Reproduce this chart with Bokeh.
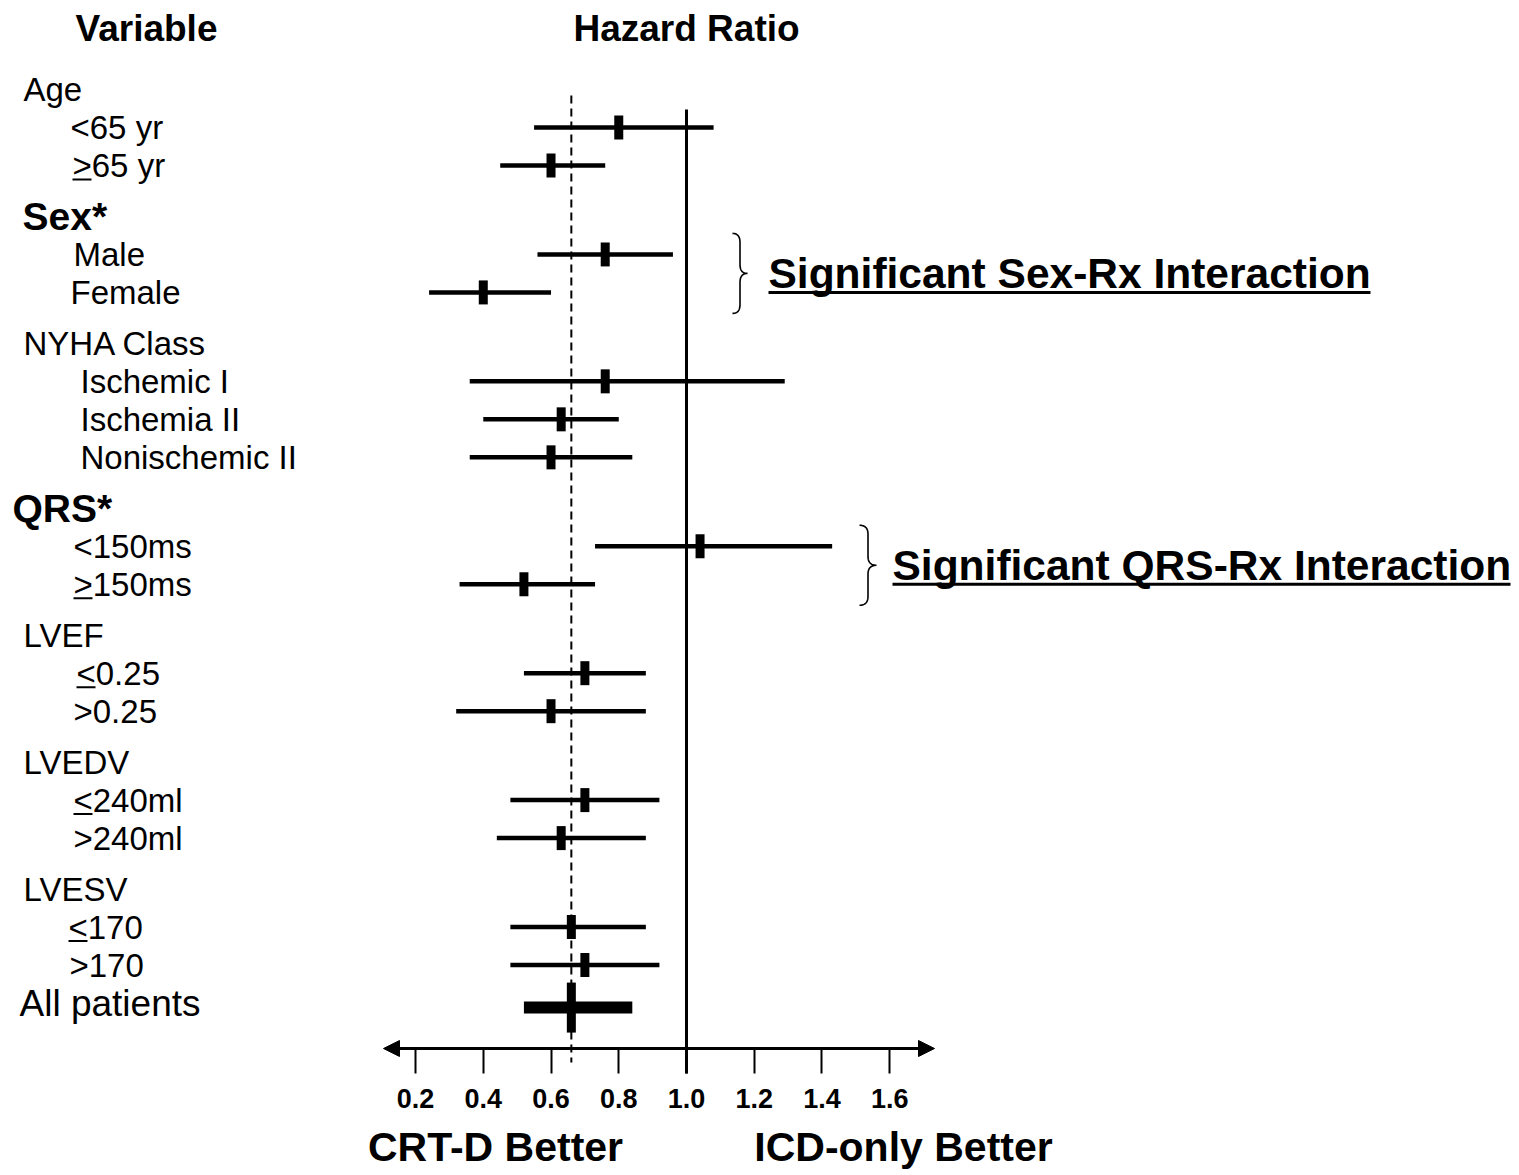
import numpy as np
from bokeh.plotting import figure
from bokeh.models import (Range1d, LinearAxis, FixedTicker, NumeralTickFormatter,
                          Arrow, NormalHead, ColumnDataSource)
from bokeh.core.properties import value
from bokeh.embed import file_html
from bokeh.resources import INLINE

# ---------------- data ----------------
groups = ["Age", "Sex*", "NYHA Class", "QRS*", "LVEF", "LVEDV", "LVESV"]
group_bold = [False, True, False, True, False, False, False]

subgroups = ["<65 yr", ">65 yr", "Male", "Female", "Ischemic I", "Ischemia II",
             "Nonischemic II", "<150ms", ">150ms", "<0.25", ">0.25",
             "<240ml", ">240ml", "<170", ">170"]
subgroup_of = [0, 0, 1, 1, 2, 2, 2, 3, 3, 4, 4, 5, 5, 6, 6]
subgroup_underlined = [False, True, False, False, False, False, False,
                       False, True, True, False, True, False, True, False]
hr = [0.80, 0.60, 0.76, 0.40, 0.76, 0.63, 0.60, 1.04, 0.52, 0.70, 0.60,
      0.70, 0.63, 0.66, 0.70]
ci_low = [0.55, 0.45, 0.56, 0.24, 0.36, 0.40, 0.36, 0.73, 0.33, 0.52, 0.32,
          0.48, 0.44, 0.48, 0.48]
ci_high = [1.08, 0.76, 0.96, 0.60, 1.29, 0.80, 0.84, 1.43, 0.73, 0.88, 0.88,
           0.92, 0.88, 0.88, 0.92]

overall_label = "All patients"
overall_hr = 0.66
overall_low = 0.52
overall_high = 0.84

null_hr = 1.0
tick_values = [0.2, 0.4, 0.6, 0.8, 1.0, 1.2, 1.4, 1.6]

interaction_texts = ["Significant Sex-Rx Interaction", "Significant QRS-Rx Interaction"]
interaction_group = [1, 3]

header_left = "Variable"
header_right = "Hazard Ratio"
favour_left = "CRT-D Better"
favour_right = "ICD-only Better"

# ---------------- layout helpers (page pixels -> data units) ----------------
W, H = 1516, 1172
ORIGIN = 0                 # the figure sits at the page's top-left corner
X0, XS = 347.3, 338.7      # page x = X0 + XS * HR
Y0, YS = 89.0, 38.0        # page y = Y0 + YS * row

def x_at(px):
    return (px - X0) / XS

def y_at(py):
    return (py - Y0) / YS

def dy(py):
    return py / YS

FONT = value("Liberation Sans")

# row positions (row units), extra gap before each group
GAP = 0.34
group_pos = []
sub_pos = [None] * len(subgroups)
pos = 0.0
for gi, g in enumerate(groups):
    if gi > 0:
        pos += 1 + GAP
    group_pos.append(pos)
    for si, sg in enumerate(subgroup_of):
        if sg == gi:
            pos += 1
            sub_pos[si] = pos
overall_pos = pos + 1.12

group_indent = [23, 22, 23, 12, 23, 23, 23]
sub_indent = [70, 72, 73, 70, 80, 80, 80, 73, 73, 76, 73, 73, 73, 68, 69]

p = figure(width=W, height=H,
           x_range=Range1d(x_at(ORIGIN), x_at(ORIGIN + W)),
           y_range=Range1d(y_at(ORIGIN + H), y_at(ORIGIN)),
           toolbar_location=None, output_backend="svg",
           x_axis_type=None, y_axis_type=None, min_border=0)
p.outline_line_color = None
p.background_fill_color = "white"
p.border_fill_color = "white"

# ---------------- reference lines ----------------
p.segment(x0=[null_hr], y0=[y_at(109)], x1=[null_hr], y1=[y_at(1073)],
          line_color="black", line_width=3)
p.segment(x0=[overall_hr], y0=[y_at(95)], x1=[overall_hr], y1=[y_at(1062)],
          line_color="black", line_width=2, line_dash="8 5")

# ---------------- subgroup estimates ----------------
src = ColumnDataSource(dict(y=sub_pos, hr=hr, lo=ci_low, hi=ci_high))
p.segment(x0="lo", y0="y", x1="hi", y1="y", source=src,
          line_color="black", line_width=4.5, line_cap="butt")
p.rect(x="hr", y="y", width=9, height=24, width_units="screen",
       height_units="screen", source=src, fill_color="black", line_color=None)

# overall
p.segment(x0=[overall_low], y0=[overall_pos], x1=[overall_high], y1=[overall_pos],
          line_color="black", line_width=12, line_cap="butt")
p.rect(x=[overall_hr], y=[overall_pos], width=9, height=50, width_units="screen",
       height_units="screen", fill_color="black", line_color=None)

# ---------------- labels ----------------
for gi, g in enumerate(groups):
    p.text(x=[x_at(group_indent[gi])], y=[group_pos[gi]], text=[g],
           text_font=FONT, text_font_size=value("39px" if group_bold[gi] else "33px"),
           text_font_style=value("bold" if group_bold[gi] else "normal"),
           text_baseline="middle", text_align="left", text_color="black")
for si, s in enumerate(subgroups):
    p.text(x=[x_at(sub_indent[si])], y=[sub_pos[si]], text=[s],
           text_font=FONT, text_font_size=value("33px"),
           text_baseline="middle", text_align="left", text_color="black")
    if subgroup_underlined[si]:
        p.segment(x0=[x_at(sub_indent[si])], x1=[x_at(sub_indent[si] + 19)],
                  y0=[sub_pos[si] + dy(14)], y1=[sub_pos[si] + dy(14)],
                  line_color="black", line_width=2)
p.text(x=[x_at(19)], y=[overall_pos - dy(4)], text=[overall_label],
       text_font=FONT, text_font_size=value("37px"),
       text_baseline="middle", text_align="left", text_color="black")

# headers
p.text(x=[x_at(146)], y=[y_at(28)], text=[header_left], text_font=FONT,
       text_font_size=value("37px"), text_font_style=value("bold"),
       text_baseline="middle", text_align="center", text_color="black")
p.text(x=[null_hr], y=[y_at(28)], text=[header_right], text_font=FONT,
       text_font_size=value("37px"), text_font_style=value("bold"),
       text_baseline="middle", text_align="center", text_color="black")

# favour labels
p.text(x=[x_at(495)], y=[y_at(1146)], text=[favour_left], text_font=FONT,
       text_font_size=value("41px"), text_font_style=value("bold"),
       text_baseline="middle", text_align="center", text_color="black")
p.text(x=[x_at(903)], y=[y_at(1146)], text=[favour_right], text_font=FONT,
       text_font_size=value("41px"), text_font_style=value("bold"),
       text_baseline="middle", text_align="center", text_color="black")

# ---------------- interaction braces and texts ----------------
def brace_points(xl, xt, top, bot, r=9, n=20):
    xm = (xl + xt) / 2.0
    ym = (top + bot) / 2.0
    t = np.linspace(0, 1, n)

    def quad(p0, c, p1):
        return ((1 - t) ** 2 * p0[0] + 2 * (1 - t) * t * c[0] + t ** 2 * p1[0],
                (1 - t) ** 2 * p0[1] + 2 * (1 - t) * t * c[1] + t ** 2 * p1[1])
    xs, ys = [], []
    for seg in [quad((xl, top), (xm, top), (xm, top + r)),
                ([xm, xm], [top + r, ym - r]),
                quad((xm, ym - r), (xm, ym), (xt, ym)),
                quad((xt, ym), (xm, ym), (xm, ym + r)),
                ([xm, xm], [ym + r, bot - r]),
                quad((xm, bot - r), (xm, bot), (xl, bot))]:
        xs.extend(list(seg[0]))
        ys.extend(list(seg[1]))
    return xs, ys

brace_x = [(732, 747), (859, 876)]
text_left = [768, 892]
text_width = [602, 618]
for k, txt in enumerate(interaction_texts):
    rows = [sub_pos[i] for i, g in enumerate(subgroup_of) if g == interaction_group[k]]
    mid = (min(rows) + max(rows)) / 2.0
    mid_px = Y0 + YS * mid
    bx, by = brace_points(brace_x[k][0], brace_x[k][1], mid_px - 40, mid_px + 40)
    p.line(x=[x_at(v) for v in bx], y=[y_at(v) for v in by],
           line_color="black", line_width=1.6)
    p.text(x=[x_at(text_left[k])], y=[mid], text=[txt], text_font=FONT,
           text_font_size=value("42.5px"), text_font_style=value("bold"),
           text_baseline="middle", text_align="left", text_color="black")
    p.segment(x0=[x_at(text_left[k])], x1=[x_at(text_left[k] + text_width[k])],
              y0=[mid + dy(19)], y1=[mid + dy(19)], line_color="black", line_width=3)

# ---------------- x axis with arrows ----------------
axis_y = y_at(1048)
ax = LinearAxis(fixed_location=axis_y,
                ticker=FixedTicker(ticks=tick_values),
                formatter=NumeralTickFormatter(format="0.0"),
                axis_line_color=None,
                major_tick_in=0, major_tick_out=25,
                major_tick_line_width=2, major_tick_line_color="black",
                minor_tick_line_color=None,
                major_label_standoff=15,
                major_label_text_font="Liberation Sans",
                major_label_text_font_size="27px",
                major_label_text_font_style="bold",
                major_label_text_color="black")
p.add_layout(ax, "below")
p.add_layout(Arrow(x_start=x_at(383), x_end=x_at(934), y_start=axis_y, y_end=axis_y,
                   line_width=3, line_color="black",
                   start=NormalHead(size=16, fill_color="black", line_color="black"),
                   end=NormalHead(size=16, fill_color="black", line_color="black")))

open("out.html", "w").write(file_html(p, INLINE))
